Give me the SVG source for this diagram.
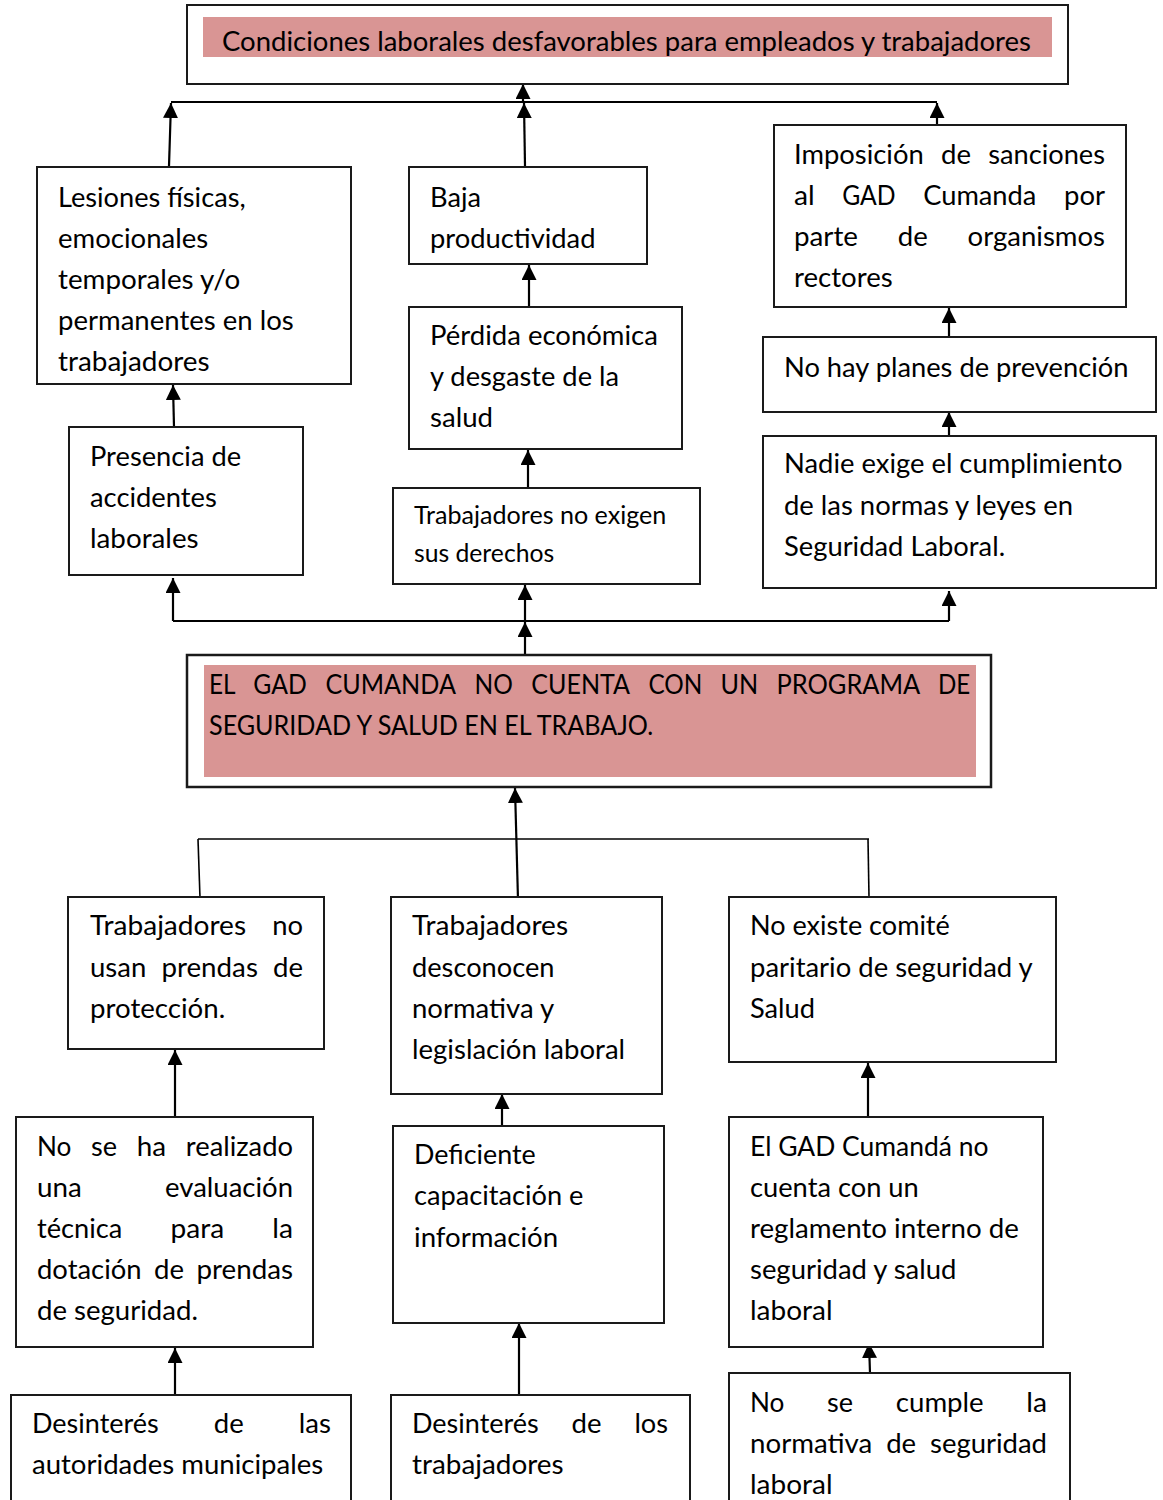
<svg xmlns="http://www.w3.org/2000/svg" width="1163" height="1500" viewBox="0 0 1163 1500">
<style>
.box{fill:#fff;stroke:#1a1a1a;stroke-width:2}
.pink{fill:#d99594;stroke:none}
text{font-family:Lato,"Open Sans","Liberation Sans",sans-serif;font-size:27px;fill:#000}
.s{font-size:24.5px}
.c{stroke:#000;stroke-width:2.2;fill:none}
.a{marker-end:url(#ah)}
.thin{stroke-width:1.6}
</style>
<defs>
<marker id="ah" viewBox="0 0 15 15" refX="15" refY="7.5" markerWidth="15" markerHeight="15" markerUnits="userSpaceOnUse" orient="auto">
<path d="M0,0 L15,7.5 L0,15 z" fill="#000"/>
</marker>
</defs>

<g id="connectors">
<path class="c" d="M171,102 H937"/>
<path class="c a" d="M523,102 V84"/>
<path class="c a" d="M169,166 L171,103"/>
<path class="c a" d="M525,166 L524,103"/>
<path class="c a" d="M937,125 V103"/>
<path class="c a" d="M529,307 V265"/>
<path class="c a" d="M174,427 L173,385"/>
<path class="c a" d="M528,487 V450"/>
<path class="c a" d="M949,337 V308"/>
<path class="c a" d="M949,436 V412"/>
<path class="c" d="M173,621 H949"/>
<path class="c a" d="M173,621 V578"/>
<path class="c a" d="M525,621 V585"/>
<path class="c a" d="M949,621 V591"/>
<path class="c a" d="M525,655 V622"/>
<path class="c a" d="M518,900 L515,788"/>
<path class="c thin" d="M198,839 H869"/>
<path class="c thin" d="M198,839 L200,898"/>
<path class="c thin" d="M868,839 L869,897"/>
<path class="c a" d="M175,1117 V1050"/>
<path class="c a" d="M502,1126 V1094"/>
<path class="c a" d="M868,1117 V1063"/>
<path class="c a" d="M175,1395 V1348"/>
<path class="c a" d="M519,1395 V1323"/>
<path class="c a" d="M870,1373 L869,1343"/>
</g>

<g id="n-top">
<rect class="box" x="187" y="5" width="881" height="79"/>
<rect class="pink" x="203" y="17" width="849" height="40"/>
<text x="222" y="50.5" textLength="809" lengthAdjust="spacingAndGlyphs">Condiciones laborales desfavorables para empleados y trabajadores</text>
</g>

<g id="n-lesiones">
<rect class="box" x="37" y="167" width="314" height="217"/>
<text x="58" y="206.5" textLength="187.6" lengthAdjust="spacingAndGlyphs">Lesiones físicas,</text>
<text x="58" y="247.5" textLength="150.2" lengthAdjust="spacingAndGlyphs">emocionales</text>
<text x="58" y="288.5" textLength="182.3" lengthAdjust="spacingAndGlyphs">temporales y/o</text>
<text x="58" y="329.5" textLength="235.7" lengthAdjust="spacingAndGlyphs">permanentes en los</text>
<text x="58" y="370.5" textLength="151.6" lengthAdjust="spacingAndGlyphs">trabajadores</text>
</g>

<g id="n-baja">
<rect class="box" x="409" y="167" width="238" height="97"/>
<text x="430" y="206.5" textLength="51" lengthAdjust="spacingAndGlyphs">Baja</text>
<text x="430" y="247.5" textLength="165.5" lengthAdjust="spacingAndGlyphs">productividad</text>
</g>

<g id="n-imposicion">
<rect class="box" x="774" y="125" width="352" height="182"/>
<text x="794" y="164" textLength="129.7" lengthAdjust="spacingAndGlyphs">Imposición</text>
<text x="941" y="164" textLength="30" lengthAdjust="spacingAndGlyphs">de</text>
<text x="988.2" y="164" textLength="116.8" lengthAdjust="spacingAndGlyphs">sanciones</text>
<text x="794" y="205" textLength="20.7" lengthAdjust="spacingAndGlyphs">al</text>
<text x="842.2" y="205" textLength="53.5" lengthAdjust="spacingAndGlyphs">GAD</text>
<text x="923.2" y="205" textLength="113.2" lengthAdjust="spacingAndGlyphs">Cumanda</text>
<text x="1064" y="205" textLength="41" lengthAdjust="spacingAndGlyphs">por</text>
<text x="794" y="246" textLength="64" lengthAdjust="spacingAndGlyphs">parte</text>
<text x="897.8" y="246" textLength="30" lengthAdjust="spacingAndGlyphs">de</text>
<text x="967.6" y="246" textLength="137.4" lengthAdjust="spacingAndGlyphs">organismos</text>
<text x="794" y="287" textLength="98.7" lengthAdjust="spacingAndGlyphs">rectores</text>
</g>

<g id="n-perdida">
<rect class="box" x="409" y="307" width="273" height="142"/>
<text x="430" y="344.5" textLength="227.9" lengthAdjust="spacingAndGlyphs">Pérdida económica</text>
<text x="430" y="386" textLength="189" lengthAdjust="spacingAndGlyphs">y desgaste de la</text>
<text x="430" y="427" textLength="63" lengthAdjust="spacingAndGlyphs">salud</text>
</g>

<g id="n-planes">
<rect class="box" x="763" y="337" width="393" height="75"/>
<text x="784" y="377" textLength="344.4" lengthAdjust="spacingAndGlyphs">No hay planes de prevención</text>
</g>

<g id="n-nadie">
<rect class="box" x="763" y="436" width="393" height="152"/>
<text x="784" y="473" textLength="338.5" lengthAdjust="spacingAndGlyphs">Nadie exige el cumplimiento</text>
<text x="784" y="515" textLength="289.1" lengthAdjust="spacingAndGlyphs">de las normas y leyes en</text>
<text x="784" y="556" textLength="221.1" lengthAdjust="spacingAndGlyphs">Seguridad Laboral.</text>
</g>

<g id="n-presencia">
<rect class="box" x="69" y="427" width="234" height="148"/>
<text x="90" y="465.5" textLength="151.1" lengthAdjust="spacingAndGlyphs">Presencia de</text>
<text x="90" y="507" textLength="126.8" lengthAdjust="spacingAndGlyphs">accidentes</text>
<text x="90" y="548" textLength="108.6" lengthAdjust="spacingAndGlyphs">laborales</text>
</g>

<g id="n-noexigen">
<rect class="box" x="393" y="488" width="307" height="96"/>
<text class="s" x="414" y="524" textLength="252.3" lengthAdjust="spacingAndGlyphs">Trabajadores no exigen</text>
<text class="s" x="414" y="561.5" textLength="140.2" lengthAdjust="spacingAndGlyphs">sus derechos</text>
</g>

<g id="n-problema">
<rect class="box" x="187" y="655" width="804" height="132" style="stroke-width:2.5"/>
<rect class="pink" x="204" y="665" width="772" height="112"/>
<text x="209" y="693.5" textLength="26.6" lengthAdjust="spacingAndGlyphs">EL</text>
<text x="253.3" y="693.5" textLength="53.5" lengthAdjust="spacingAndGlyphs">GAD</text>
<text x="325.5" y="693.5" textLength="130.4" lengthAdjust="spacingAndGlyphs">CUMANDA</text>
<text x="474.5" y="693.5" textLength="38.3" lengthAdjust="spacingAndGlyphs">NO</text>
<text x="531.2" y="693.5" textLength="98.9" lengthAdjust="spacingAndGlyphs">CUENTA</text>
<text x="648.4" y="693.5" textLength="53.9" lengthAdjust="spacingAndGlyphs">CON</text>
<text x="720.6" y="693.5" textLength="37.7" lengthAdjust="spacingAndGlyphs">UN</text>
<text x="776.5" y="693.5" textLength="143.8" lengthAdjust="spacingAndGlyphs">PROGRAMA</text>
<text x="938" y="693.5" textLength="32.3" lengthAdjust="spacingAndGlyphs">DE</text>
<text x="209" y="734.5" textLength="444.3" lengthAdjust="spacingAndGlyphs">SEGURIDAD Y SALUD EN EL TRABAJO.</text>
</g>

<g id="n-prendas">
<rect class="box" x="68" y="897" width="256" height="152"/>
<text x="90" y="935" textLength="156.1" lengthAdjust="spacingAndGlyphs">Trabajadores</text>
<text x="272.2" y="935" textLength="30.8" lengthAdjust="spacingAndGlyphs">no</text>
<text x="90" y="976.5" textLength="56.3" lengthAdjust="spacingAndGlyphs">usan</text>
<text x="161.4" y="976.5" textLength="96.5" lengthAdjust="spacingAndGlyphs">prendas</text>
<text x="273" y="976.5" textLength="30" lengthAdjust="spacingAndGlyphs">de</text>
<text x="90" y="1017.5" textLength="135.2" lengthAdjust="spacingAndGlyphs">protección.</text>
</g>

<g id="n-desconocen">
<rect class="box" x="391" y="897" width="271" height="197"/>
<text x="412" y="935" textLength="156.1" lengthAdjust="spacingAndGlyphs">Trabajadores</text>
<text x="412" y="976.5" textLength="142.5" lengthAdjust="spacingAndGlyphs">desconocen</text>
<text x="412" y="1017.5" textLength="142.2" lengthAdjust="spacingAndGlyphs">normativa y</text>
<text x="412" y="1059" textLength="213.1" lengthAdjust="spacingAndGlyphs">legislación laboral</text>
</g>

<g id="n-comite">
<rect class="box" x="729" y="897" width="327" height="165"/>
<text x="750" y="935" textLength="199.8" lengthAdjust="spacingAndGlyphs">No existe comité</text>
<text x="750" y="976.5" textLength="282.7" lengthAdjust="spacingAndGlyphs">paritario de seguridad y</text>
<text x="750" y="1017.5" textLength="65" lengthAdjust="spacingAndGlyphs">Salud</text>
</g>

<g id="n-evaluacion">
<rect class="box" x="16" y="1117" width="297" height="230"/>
<text x="37" y="1156" textLength="34.4" lengthAdjust="spacingAndGlyphs">No</text>
<text x="91.1" y="1156" textLength="26" lengthAdjust="spacingAndGlyphs">se</text>
<text x="136.8" y="1156" textLength="29.4" lengthAdjust="spacingAndGlyphs">ha</text>
<text x="185.8" y="1156" textLength="107.2" lengthAdjust="spacingAndGlyphs">realizado</text>
<text x="37" y="1197" textLength="44.8" lengthAdjust="spacingAndGlyphs">una</text>
<text x="165.1" y="1197" textLength="127.9" lengthAdjust="spacingAndGlyphs">evaluación</text>
<text x="37" y="1238" textLength="85.3" lengthAdjust="spacingAndGlyphs">técnica</text>
<text x="170.5" y="1238" textLength="53.7" lengthAdjust="spacingAndGlyphs">para</text>
<text x="272.3" y="1238" textLength="20.7" lengthAdjust="spacingAndGlyphs">la</text>
<text x="37" y="1279" textLength="104.6" lengthAdjust="spacingAndGlyphs">dotación</text>
<text x="154" y="1279" textLength="30" lengthAdjust="spacingAndGlyphs">de</text>
<text x="196.5" y="1279" textLength="96.5" lengthAdjust="spacingAndGlyphs">prendas</text>
<text x="37" y="1320" textLength="160.9" lengthAdjust="spacingAndGlyphs">de seguridad.</text>
</g>

<g id="n-capacitacion">
<rect class="box" x="393" y="1126" width="271" height="197"/>
<text x="414" y="1163.5" textLength="121.7" lengthAdjust="spacingAndGlyphs">Deficiente</text>
<text x="414" y="1205" textLength="169.4" lengthAdjust="spacingAndGlyphs">capacitación e</text>
<text x="414" y="1246.5" textLength="144.1" lengthAdjust="spacingAndGlyphs">información</text>
</g>

<g id="n-reglamento">
<rect class="box" x="729" y="1117" width="314" height="230"/>
<text x="750" y="1156" textLength="238.4" lengthAdjust="spacingAndGlyphs">El GAD Cumandá no</text>
<text x="750" y="1197" textLength="168.8" lengthAdjust="spacingAndGlyphs">cuenta con un</text>
<text x="750" y="1238" textLength="268.8" lengthAdjust="spacingAndGlyphs">reglamento interno de</text>
<text x="750" y="1279" textLength="206.4" lengthAdjust="spacingAndGlyphs">seguridad y salud</text>
<text x="750" y="1320" textLength="82.5" lengthAdjust="spacingAndGlyphs">laboral</text>
</g>

<g id="n-autoridades">
<rect class="box" x="11" y="1395" width="340" height="120"/>
<text x="32" y="1433" textLength="126.8" lengthAdjust="spacingAndGlyphs">Desinterés</text>
<text x="213.8" y="1433" textLength="30" lengthAdjust="spacingAndGlyphs">de</text>
<text x="298.8" y="1433" textLength="32.2" lengthAdjust="spacingAndGlyphs">las</text>
<text x="32" y="1474" textLength="291.2" lengthAdjust="spacingAndGlyphs">autoridades municipales</text>
</g>

<g id="n-trabajadores">
<rect class="box" x="391" y="1395" width="299" height="120"/>
<text x="412" y="1433" textLength="126.8" lengthAdjust="spacingAndGlyphs">Desinterés</text>
<text x="571.6" y="1433" textLength="30" lengthAdjust="spacingAndGlyphs">de</text>
<text x="634.4" y="1433" textLength="33.6" lengthAdjust="spacingAndGlyphs">los</text>
<text x="412" y="1474" textLength="151.6" lengthAdjust="spacingAndGlyphs">trabajadores</text>
</g>

<g id="n-normativa">
<rect class="box" x="729" y="1373" width="341" height="140"/>
<text x="750" y="1412" textLength="34.4" lengthAdjust="spacingAndGlyphs">No</text>
<text x="827.1" y="1412" textLength="26" lengthAdjust="spacingAndGlyphs">se</text>
<text x="895.8" y="1412" textLength="87.9" lengthAdjust="spacingAndGlyphs">cumple</text>
<text x="1026.3" y="1412" textLength="20.7" lengthAdjust="spacingAndGlyphs">la</text>
<text x="750" y="1453" textLength="122.3" lengthAdjust="spacingAndGlyphs">normativa</text>
<text x="886.2" y="1453" textLength="30" lengthAdjust="spacingAndGlyphs">de</text>
<text x="930" y="1453" textLength="117" lengthAdjust="spacingAndGlyphs">seguridad</text>
<text x="750" y="1494" textLength="82.5" lengthAdjust="spacingAndGlyphs">laboral</text>
</g>
</svg>
